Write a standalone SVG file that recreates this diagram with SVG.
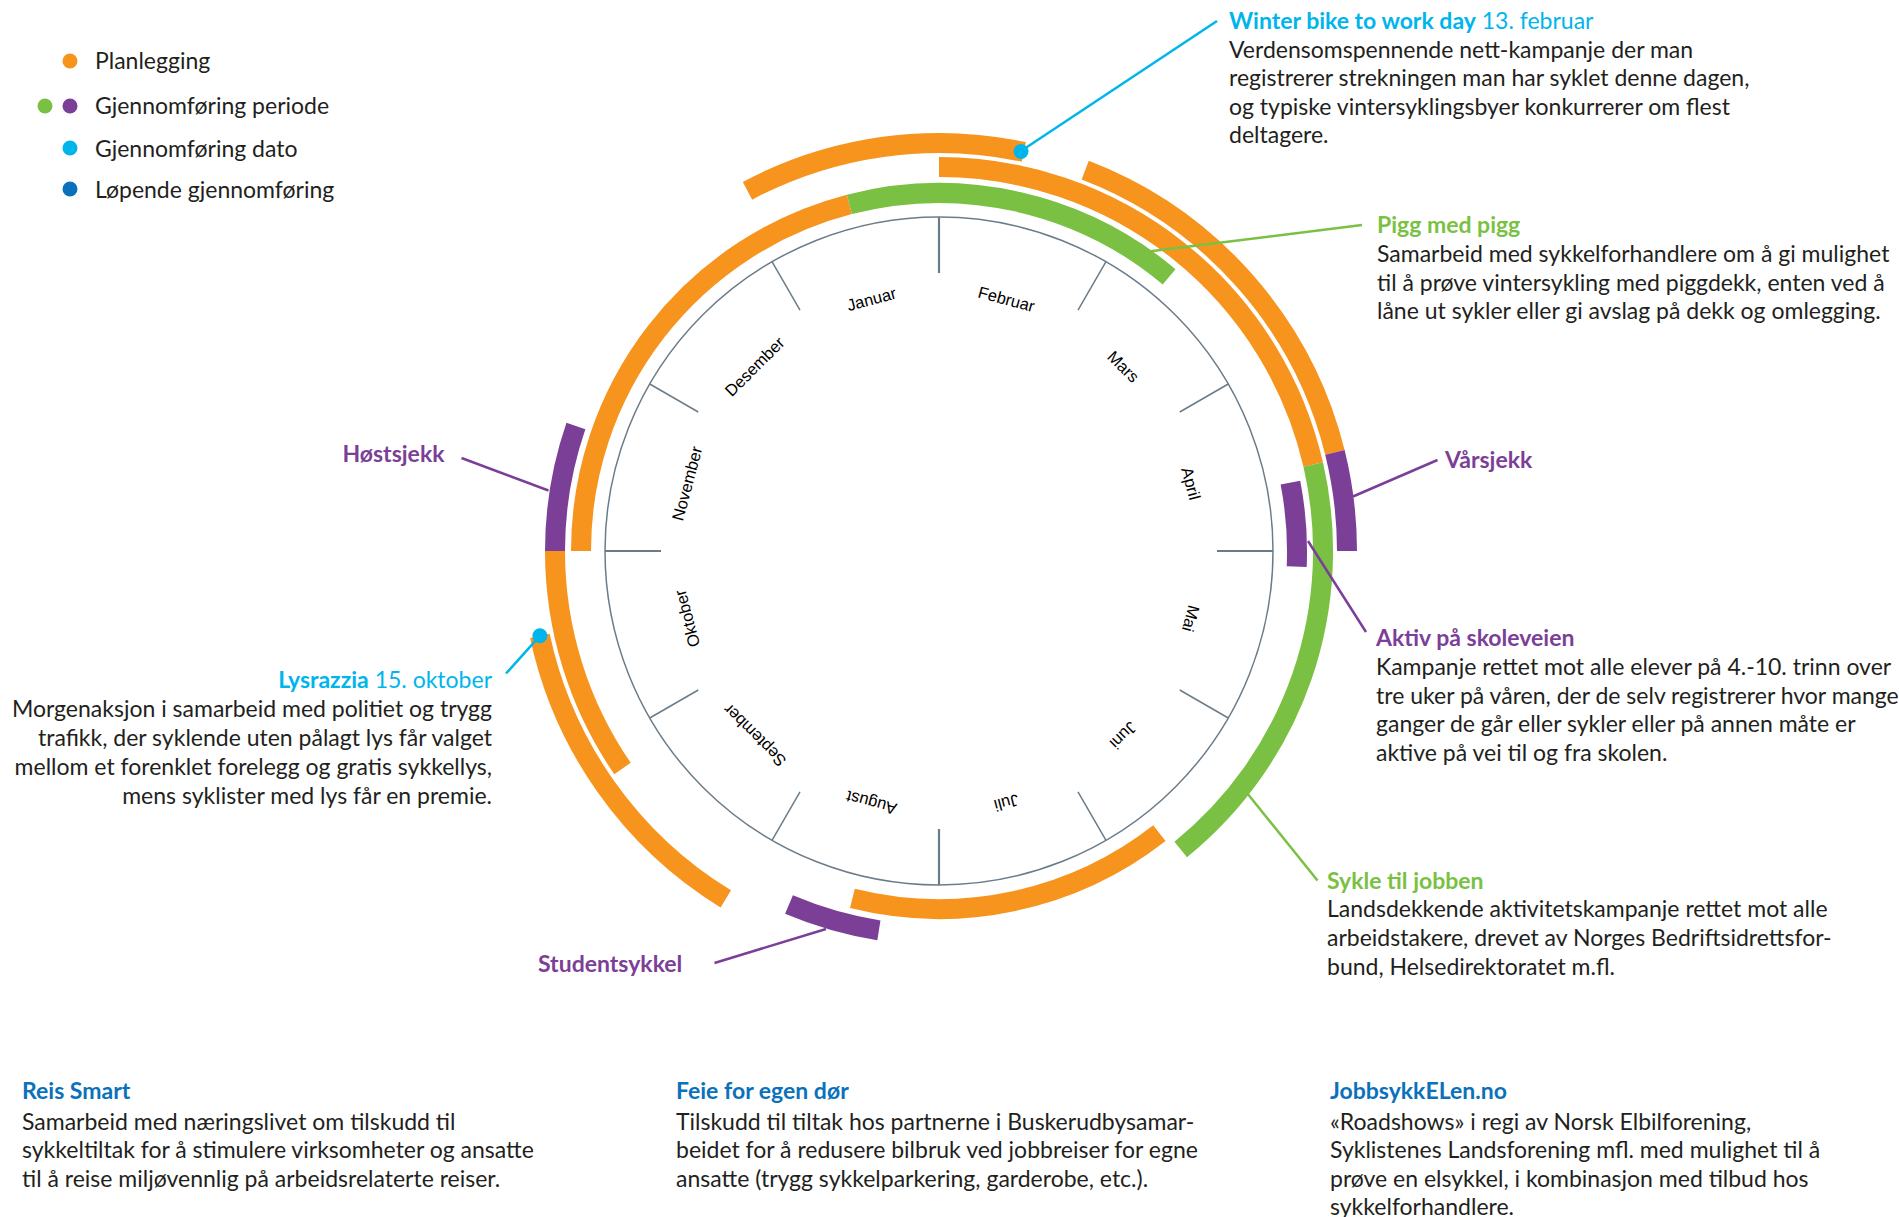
<svg xmlns="http://www.w3.org/2000/svg" width="1899" height="1217" viewBox="0 0 1899 1217">
<style>
.arc{fill:none;stroke-width:20;stroke-linecap:butt}
.or{stroke:#F7941D}.gr{stroke:#7AC143}.pu{stroke:#7B3F98}
.tick{stroke:#6B7C89;stroke-width:1.5}
.tick2{stroke:#6B7C89;stroke-width:2.2}
.ring{fill:none;stroke:#6B7C89;stroke-width:1.5}
.mon{font-family:"Liberation Sans",Arial,sans-serif;font-size:16.5px;fill:#000;text-anchor:middle}
.t{font-family:Lato,"Noto Sans",sans-serif;font-size:23px;fill:#231F20}
.b{font-weight:700}
.cy{fill:#00B5EC}.gt{fill:#7AC143}.pt{fill:#7B3F98}.bl{fill:#0A71BA}
.ln{fill:none;stroke-width:2.5}
.lc{stroke:#00B5EC}.lg{stroke:#7AC143}.lp{stroke:#7B3F98}
</style>

<g id="legend">
<circle cx="70" cy="61" r="7.5" fill="#F7941D"/>
<circle cx="45" cy="106" r="7.5" fill="#7AC143"/>
<circle cx="70" cy="106" r="7.5" fill="#7B3F98"/>
<circle cx="70" cy="148" r="7.5" fill="#00B5EC"/>
<circle cx="70" cy="189" r="7.5" fill="#0A71BA"/>
<text class="t" x="95" y="69">Planlegging</text>
<text class="t" x="95" y="114">Gjennomføring periode</text>
<text class="t" x="95" y="156.5">Gjennomføring dato</text>
<text class="t" x="95" y="197.5">Løpende gjennomføring</text>
</g>

<g id="wheel">
<circle class="ring" cx="939" cy="551" r="334"/>
<line class="tick2" x1="939" y1="217" x2="939" y2="273"/>
<line class="tick2" x1="1273" y1="551" x2="1217" y2="551"/>
<line class="tick2" x1="939" y1="885" x2="939" y2="829"/>
<line class="tick2" x1="605" y1="551" x2="661" y2="551"/>
<g transform="rotate(30 939 551)"><line class="tick" x1="939" y1="217" x2="939" y2="273"/></g>
<g transform="rotate(60 939 551)"><line class="tick" x1="939" y1="217" x2="939" y2="273"/></g>
<g transform="rotate(120 939 551)"><line class="tick" x1="939" y1="217" x2="939" y2="273"/></g>
<g transform="rotate(150 939 551)"><line class="tick" x1="939" y1="217" x2="939" y2="273"/></g>
<g transform="rotate(210 939 551)"><line class="tick" x1="939" y1="217" x2="939" y2="273"/></g>
<g transform="rotate(240 939 551)"><line class="tick" x1="939" y1="217" x2="939" y2="273"/></g>
<g transform="rotate(300 939 551)"><line class="tick" x1="939" y1="217" x2="939" y2="273"/></g>
<g transform="rotate(330 939 551)"><line class="tick" x1="939" y1="217" x2="939" y2="273"/></g>
<text class="mon" x="939" y="296" transform="rotate(-15 939 551)">Januar</text>
<text class="mon" x="939" y="296" transform="rotate(15 939 551)">Februar</text>
<text class="mon" x="939" y="296" transform="rotate(45 939 551)">Mars</text>
<text class="mon" x="939" y="296" transform="rotate(75 939 551)">April</text>
<text class="mon" x="939" y="296" transform="rotate(105 939 551)">Mai</text>
<text class="mon" x="939" y="296" transform="rotate(135 939 551)">Juni</text>
<text class="mon" x="939" y="296" transform="rotate(165 939 551)">Juli</text>
<text class="mon" x="939" y="296" transform="rotate(195 939 551)">August</text>
<text class="mon" x="939" y="296" transform="rotate(225 939 551)">September</text>
<text class="mon" x="939" y="296" transform="rotate(255 939 551)">Oktober</text>
<text class="mon" x="939" y="296" transform="rotate(285 939 551)">November</text>
<text class="mon" x="939" y="296" transform="rotate(315 939 551)">Desember</text>
</g>

<g id="arcs">
<path class="arc or" d="M581,551 A358,358 0 0 1 849.4,204.4"/>
<path class="arc gr" d="M849.4,204.4 A358,358 0 0 1 1169.1,276.8"/>
<path class="arc pu" d="M1290.4,482.7 A358,358 0 0 1 1296.7,566.6"/>
<path class="arc or" d="M1159.4,833.1 A358,358 0 0 1 852.4,898.4"/>
<path class="arc or" d="M939,167 A384,384 0 0 1 1313.2,464.6"/>
<path class="arc gr" d="M1313.2,464.6 A384,384 0 0 1 1180.7,849.4"/>
<path class="arc pu" d="M555,551 A384,384 0 0 1 575.9,426"/>
<path class="arc or" d="M622.5,768.5 A384,384 0 0 1 555,551"/>
<path class="arc pu" d="M878.9,930.3 A384,384 0 0 1 789,904.5"/>
<path class="arc or" d="M747.5,190.8 A408,408 0 0 1 1023.8,151.9"/>
<path class="arc or" d="M1085.2,170.1 A408,408 0 0 1 1334.9,452.3"/>
<path class="arc pu" d="M1334.9,452.3 A408,408 0 0 1 1347,551"/>
<path class="arc or" d="M725.8,898.9 A408,408 0 0 1 539.9,635.8"/>
</g>

<g id="connectors">
<line class="ln lc" x1="1021" y1="151" x2="1217" y2="21"/>
<line class="ln lg" x1="1144.5" y1="252" x2="1362" y2="225"/>
<line class="ln lp" x1="1353" y1="496.5" x2="1437.5" y2="460"/>
<line class="ln lp" x1="1308" y1="541" x2="1366" y2="632"/>
<line class="ln lg" x1="1247" y1="793" x2="1317.5" y2="880.5"/>
<line class="ln lp" x1="826" y1="929" x2="714.5" y2="963"/>
<line class="ln lp" x1="461.5" y1="458" x2="548.5" y2="490.5"/>
<line class="ln lc" x1="539.9" y1="635.8" x2="506" y2="673.5"/>
<circle cx="1021" cy="151.5" r="7.5" fill="#00B5EC"/>
<circle cx="539.9" cy="635.8" r="7.5" fill="#00B5EC"/>
</g>

<g id="winter">
<text class="t" x="1229" y="29"><tspan class="b cy">Winter bike to work day</tspan><tspan class="cy"> 13. februar</tspan></text>
<text class="t" x="1229" y="57.5">Verdensomspennende nett-kampanje der man</text>
<text class="t" x="1229" y="86">registrerer strekningen man har syklet denne dagen,</text>
<text class="t" x="1229" y="114.5">og typiske vintersyklingsbyer konkurrerer om flest</text>
<text class="t" x="1229" y="143">deltagere.</text>
</g>

<g id="pigg">
<text class="t b gt" x="1377" y="233">Pigg med pigg</text>
<text class="t" x="1377" y="262">Samarbeid med sykkelforhandlere om å gi mulighet</text>
<text class="t" x="1377" y="290.5">til å prøve vintersykling med piggdekk, enten ved å</text>
<text class="t" x="1377" y="319">låne ut sykler eller gi avslag på dekk og omlegging.</text>
</g>

<g id="varsjekk">
<text class="t b pt" x="1445" y="468">Vårsjekk</text>
</g>

<g id="aktiv">
<text class="t b pt" x="1376" y="646">Aktiv på skoleveien</text>
<text class="t" x="1376" y="675">Kampanje rettet mot alle elever på 4.-10. trinn over</text>
<text class="t" x="1376" y="703.5">tre uker på våren, der de selv registrerer hvor mange</text>
<text class="t" x="1376" y="732">ganger de går eller sykler eller på annen måte er</text>
<text class="t" x="1376" y="760.5">aktive på vei til og fra skolen.</text>
</g>

<g id="sykle">
<text class="t b gt" x="1327" y="888.5">Sykle til jobben</text>
<text class="t" x="1327" y="917">Landsdekkende aktivitetskampanje rettet mot alle</text>
<text class="t" x="1327" y="946">arbeidstakere, drevet av Norges Bedriftsidrettsfor-</text>
<text class="t" x="1327" y="974.5">bund, Helsedirektoratet m.fl.</text>
</g>

<g id="studentsykkel">
<text class="t b pt" x="538" y="972">Studentsykkel</text>
</g>

<g id="hostsjekk">
<text class="t b pt" x="444.5" y="462" text-anchor="end">Høstsjekk</text>
</g>

<g id="lysrazzia" text-anchor="end">
<text class="t" x="492" y="687.5"><tspan class="b cy">Lysrazzia</tspan><tspan class="cy"> 15. oktober</tspan></text>
<text class="t" x="492" y="716.5">Morgenaksjon i samarbeid med politiet og trygg</text>
<text class="t" x="492" y="745.5">trafikk, der syklende uten pålagt lys får valget</text>
<text class="t" x="492" y="774.5">mellom et forenklet forelegg og gratis sykkellys,</text>
<text class="t" x="492" y="803.5">mens syklister med lys får en premie.</text>
</g>

<g id="reissmart">
<text class="t b bl" x="22" y="1099">Reis Smart</text>
<text class="t" x="22" y="1129.5">Samarbeid med næringslivet om tilskudd til</text>
<text class="t" x="22" y="1157.5">sykkeltiltak for å stimulere virksomheter og ansatte</text>
<text class="t" x="22" y="1186.5">til å reise miljøvennlig på arbeidsrelaterte reiser.</text>
</g>

<g id="feie">
<text class="t b bl" x="676" y="1099">Feie for egen dør</text>
<text class="t" x="676" y="1129.5">Tilskudd til tiltak hos partnerne i Buskerudbysamar-</text>
<text class="t" x="676" y="1157.5">beidet for å redusere bilbruk ved jobbreiser for egne</text>
<text class="t" x="676" y="1186.5">ansatte (trygg sykkelparkering, garderobe, etc.).</text>
</g>

<g id="jobbsykkel">
<text class="t b bl" x="1330" y="1099">JobbsykkELen.no</text>
<text class="t" x="1330" y="1129.5">«Roadshows» i regi av Norsk Elbilforening,</text>
<text class="t" x="1330" y="1157.5">Syklistenes Landsforening mfl. med mulighet til å</text>
<text class="t" x="1330" y="1186.5">prøve en elsykkel, i kombinasjon med tilbud hos</text>
<text class="t" x="1330" y="1214.5">sykkelforhandlere.</text>
</g>
</svg>
